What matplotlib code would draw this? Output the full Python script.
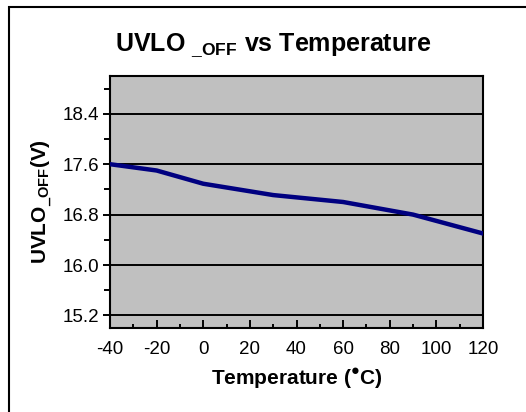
import matplotlib
matplotlib.use("Agg")
import matplotlib.pyplot as plt
from matplotlib.patches import Rectangle
from matplotlib.ticker import MultipleLocator, FixedLocator

temps = [-40, -20, 0, 30, 60, 90, 120]
uvlo_off = [17.6, 17.5, 17.29, 17.11, 17.0, 16.8, 16.5]

x_ticks = [-40, -20, 0, 20, 40, 60, 80, 100, 120]
y_ticks = [15.2, 16.0, 16.8, 17.6, 18.4]
y_tick_labels = ["15.2", "16.0", "16.8", "17.6", "18.4"]

plt.rcParams["font.family"] = ["Liberation Sans", "DejaVu Sans"]
plt.rcParams["axes.unicode_minus"] = False
plt.rcParams["mathtext.fontset"] = "custom"
plt.rcParams["mathtext.rm"] = "Liberation Sans"
plt.rcParams["mathtext.bf"] = "Liberation Sans:bold"
plt.rcParams["mathtext.fallback"] = "stixsans"

fig = plt.figure(figsize=(5.26, 4.12), dpi=100)
ax = fig.add_axes([110 / 526, 1 - 328 / 412, 373 / 526, 252 / 412])

# outer frame (only left/top edges visible in the crop)
fig.patches.append(Rectangle((8.5 / 526, -0.1), 1.2, 1 - 7.5 / 412 + 0.1,
                             transform=fig.transFigure, fill=False,
                             edgecolor="black", linewidth=1.5))

ax.set_facecolor("#c0c0c0")
ax.plot(temps, uvlo_off, color="#000080", linewidth=3.2, zorder=3)

ax.set_xlim(-40, 120)
ax.set_ylim(15.0, 19.0)
ax.set_xticks(x_ticks)
ax.xaxis.set_minor_locator(MultipleLocator(10))
ax.set_yticks(y_ticks)
ax.set_yticklabels(y_tick_labels)
ax.yaxis.set_minor_locator(FixedLocator([15.6, 16.4, 17.2, 18.0, 18.8]))

for yv in y_ticks:
    ax.axhline(yv, color="black", linewidth=1.4, zorder=2)

ax.tick_params(axis="x", direction="in", length=6, width=1.4, labelsize=13.5, pad=9)
ax.tick_params(axis="x", which="minor", direction="in", length=3, width=1.4)
ax.tick_params(axis="y", direction="out", length=5, width=1.4, labelsize=13.5, pad=3)
ax.tick_params(axis="y", which="minor", direction="out", length=4, width=1.4)
for sp in ax.spines.values():
    sp.set_linewidth(1.5)

fig.text(273 / 526, 1 - 45 / 412, r"UVLO $\mathbf{_{\_OFF}}$ vs Temperature",
         ha="center", va="center", fontsize=18, fontweight="bold")
ax.set_xlabel("Temperature ($^{\u25cf}$C)", fontsize=15, fontweight="bold", labelpad=7)
ax.set_ylabel(r"UVLO$\mathbf{_{\_OFF}}$(V)", fontsize=15, fontweight="bold", labelpad=6)

fig.savefig("out.png", dpi=100)
